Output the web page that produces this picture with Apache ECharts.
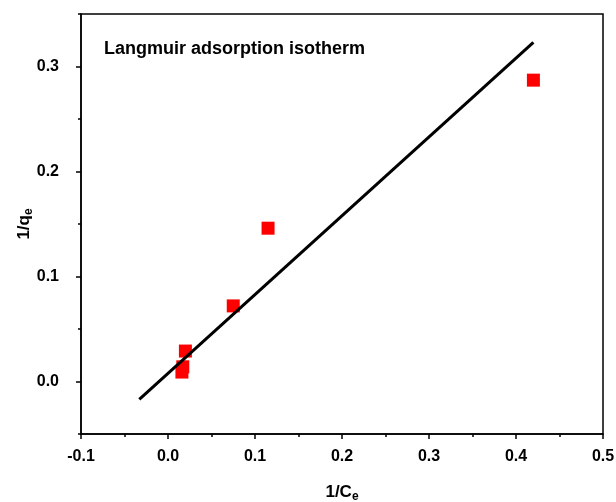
<!DOCTYPE html>
<html>
<head>
<meta charset="utf-8">
<script src="https://cdn.jsdelivr.net/npm/echarts@6/dist/echarts.min.js"></script>
<style>html,body{margin:0;padding:0;background:#fff}#c{width:616px;height:502px}</style>
</head>
<body>
<div id="c"></div>
<script>
const titleText = 'Langmuir adsorption isotherm';
const xVals = [0.016, 0.017, 0.020, 0.075, 0.115, 0.420];
const yVals = [0.009, 0.014, 0.029, 0.072, 0.146, 0.287];
const fitX = [-0.033, 0.420];
const fitY = [-0.017, 0.323];
const xTicks = [-0.1, 0.0, 0.1, 0.2, 0.3, 0.4, 0.5];
const yTicks = [0.0, 0.1, 0.2, 0.3];

const FF = "'Liberation Sans', Arial, sans-serif";
const chart = echarts.init(document.getElementById('c'), null, {renderer: 'canvas'});
const labelStyle = {color: '#000', fontFamily: FF, fontWeight: 'bold', fontSize: 16};

chart.setOption({
  animation: false,
  title: {
    text: titleText, left: 99, top: 35,
    textStyle: {fontFamily: FF, fontWeight: 'bold', fontSize: 18, color: '#000'}
  },
  grid: {left: 81, right: 13, top: 14, bottom: 68, show: true, borderColor: '#000', borderWidth: 1.5,
    containLabel: false, outerBoundsMode: 'none'},
  xAxis: [{
    type: 'value', min: xTicks[0], max: xTicks[xTicks.length - 1], interval: 0.1,
    position: 'bottom',
    axisLine: {show: true, onZero: false, lineStyle: {color: '#000', width: 1.5}},
    axisTick: {show: true, inside: false, length: 5, lineStyle: {color: '#000', width: 1.5}},
    minorTick: {show: true, splitNumber: 2, length: 3, lineStyle: {color: '#000', width: 1.5}},
    splitLine: {show: false},
    axisLabel: Object.assign({margin: 15, formatter: v => v.toFixed(1)}, labelStyle),
    name: '1/C{s|e}', nameLocation: 'middle', nameGap: 47, nameMoveOverlap: false,
    nameTextStyle: {color: '#000', fontFamily: FF, fontWeight: 'bold', fontSize: 17,
      rich: {s: {fontFamily: FF, fontWeight: 'bold', fontSize: 12, verticalAlign: 'bottom', padding: [10, 0, 0, 0]}}}
  }],
  yAxis: [{
    type: 'value', min: -0.05, max: 0.35, splitNumber: 4,
    position: 'left', offset: 0,
    axisLine: {show: true, onZero: false, lineStyle: {color: '#000', width: 1.5}},
    axisTick: {show: true, inside: false, length: 5, lineStyle: {color: '#000', width: 1.5}},
    splitLine: {show: false},
    axisLabel: Object.assign({margin: 22, showMinLabel: false, showMaxLabel: false,
      formatter: v => (yTicks.some(t => Math.abs(t - v) < 1e-9) ? v.toFixed(1) : '')}, labelStyle),
    name: '1/q{s|e}', nameLocation: 'middle', nameGap: 46, nameRotate: 90, nameMoveOverlap: false,
    nameTextStyle: {color: '#000', fontFamily: FF, fontWeight: 'bold', fontSize: 17,
      rich: {s: {fontFamily: FF, fontWeight: 'bold', fontSize: 12, verticalAlign: 'bottom', padding: [10, 0, 0, 0]}}}
  }, {
    type: 'value', min: -0.05, max: 0.35, interval: 0.05,
    position: 'left', offset: 0,
    axisLine: {show: false, onZero: false},
    axisTick: {show: true, inside: false, length: 3, lineStyle: {color: '#000', width: 1.5}},
    splitLine: {show: false},
    axisLabel: {show: false}
  }],
  series: [{
    type: 'scatter', xAxisIndex: 0, yAxisIndex: 0,
    symbol: 'rect', symbolSize: 13,
    itemStyle: {color: '#ff0000', opacity: 1},
    data: xVals.map((x, i) => [x, yVals[i]]),
    z: 2
  }, {
    type: 'line', xAxisIndex: 0, yAxisIndex: 0,
    symbol: 'none', lineStyle: {color: '#000', width: 3},
    data: fitX.map((x, i) => [x, fitY[i]]),
    z: 3
  }]
});
</script>
</body>
</html>
